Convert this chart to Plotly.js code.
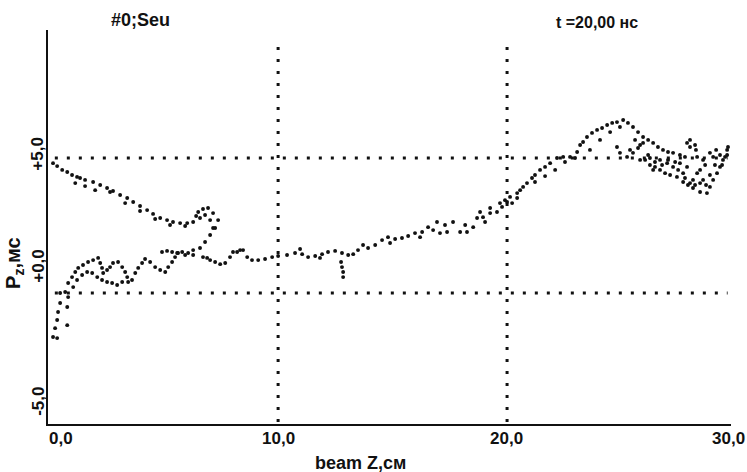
<!DOCTYPE html>
<html>
<head>
<meta charset="utf-8">
<script src="https://cdn.plot.ly/plotly-3.0.1.min.js"></script>
<style>html,body{margin:0;padding:0;background:#fff;}#chart{width:747px;height:472px;}</style>
</head>
<body>
<div id="chart"></div>
<script>
// Phase-space points (z in cm, Pz in mc)
var upperX = [0.17,0.35,0.57,0.79,1.00,1.22,1.35,1.57,1.92,2.23,2.53,2.79,3.10,3.41,3.67,3.97,4.28,4.54,4.85,5.15,5.41,5.72,6.03,6.29,6.42,6.51,6.72,6.94,7.16,7.38,7.25,7.03,6.81,6.59,6.29,
              1.14,1.57,2.01,2.66,3.32,3.97,4.63,5.28,5.94,6.59,6.81,7.03,7.16];
var upperY = [4.81,4.70,4.56,4.48,4.37,4.30,4.26,4.19,4.11,4.00,3.89,3.78,3.63,3.52,3.37,3.22,3.07,2.93,2.78,2.70,2.63,2.59,2.59,2.63,2.85,3.00,3.11,3.15,2.96,2.70,2.41,2.15,1.89,1.67,1.41,
              4.07,3.96,3.81,3.74,3.33,3.04,2.74,2.52,2.48,2.78,2.89,2.70,2.41];

var lowerX = [0.17,0.35,0.26,0.35,0.39,0.48,0.48,0.70,0.83,1.00,1.14,1.27,1.48,1.70,1.92,2.14,2.23,2.31,2.36,2.53,2.66,2.79,3.01,3.19,3.32,3.41,3.45,3.62,3.76,3.89,4.06,4.19,4.41,4.63,4.85,5.07,5.20,5.37,5.50,5.63,5.81,5.94,6.07,6.29,
              0.79,0.79,0.83,1.05,1.22,1.44,1.66,1.88,2.10,2.31,2.53,2.75,2.97,3.19,
              4.93,5.15,5.37,5.59];
var lowerY = [-1.63,-1.67,-1.30,-1.00,-0.70,-0.37,0.00,0.04,0.37,0.59,0.78,0.93,1.04,1.15,1.22,1.30,1.11,0.93,0.74,0.85,0.96,1.11,1.15,0.96,0.78,0.59,0.41,0.48,0.74,0.93,1.11,1.26,1.15,0.96,0.85,0.78,0.96,1.15,1.33,1.48,1.52,1.41,1.48,1.59,
              -0.52,-1.19,-0.15,0.22,0.48,0.67,0.78,0.74,0.59,0.48,0.41,0.37,0.30,0.41,
              1.52,1.56,1.52,1.48];

var midX = [6.72,6.90,7.03,7.25,7.47,7.69,7.90,8.03,8.21,8.34,8.47,8.65,8.86,9.13,9.43,9.74,10.00,10.39,10.74,11.05,11.31,11.62,11.92,12.18,12.49,12.79,13.06,13.28,13.49,13.71,13.93,14.24,14.54,14.80,15.11,15.41,15.68,15.98,16.29,16.55,16.77,16.94,17.07,17.38,17.64,17.95,18.25,18.52,18.69,18.95,19.26,19.56,19.78,20.00,20.22,20.44,
            10.96,11.83,14.89,16.20,17.29,18.17,19.04,
            12.75,12.79,12.84,12.84];
var midY = [1.33,1.30,1.22,1.15,1.07,1.11,1.33,1.52,1.52,1.59,1.59,1.33,1.22,1.22,1.26,1.33,1.37,1.41,1.48,1.44,1.33,1.37,1.44,1.52,1.56,1.48,1.41,1.44,1.59,1.78,1.67,1.78,1.96,2.07,2.00,2.04,2.11,2.22,2.26,2.44,2.33,2.63,2.22,2.26,2.63,2.26,2.26,2.44,2.78,2.81,2.96,3.00,3.19,3.37,3.33,3.52,
            1.63,1.30,1.85,2.07,2.52,2.52,2.63,
            1.15,0.96,0.78,0.59];

var rightX = [18.82,19.26,19.69,19.91,20.13,20.44,20.57,20.70,20.87,21.09,21.22,21.44,21.66,21.88,22.18,22.45,22.75,22.97,23.06,23.19,23.32,23.49,23.71,23.93,24.15,24.37,24.59,24.80,25.07,25.28,25.50,25.72,25.94,26.16,26.38,26.59,26.81,27.03,27.25,27.55,27.77,
              21.22,21.66,22.10,22.53,23.62,24.06,24.50,24.93,
              24.80,24.93,25.24,25.50,25.72,25.94,26.24,26.46,26.68,26.90,27.12,27.42,27.69,27.90,28.12,28.43,28.73,28.86,29.00,29.17,29.30,29.43,29.61,29.65];
var rightY = [3.00,3.15,3.33,3.44,3.56,3.70,3.81,3.93,4.07,4.26,4.37,4.56,4.67,4.81,5.00,5.04,5.04,5.00,5.22,5.48,5.59,5.78,5.93,6.04,6.11,6.22,6.30,6.33,6.41,6.30,6.15,5.96,5.78,5.67,5.56,5.41,5.30,5.22,5.19,5.11,5.04,
              4.11,4.33,4.56,4.85,5.30,5.67,5.96,6.15,
              5.41,5.19,5.04,5.19,5.37,5.56,4.74,4.67,4.56,4.44,4.37,4.30,4.11,4.00,3.89,3.74,3.70,3.93,4.19,4.44,4.67,4.93,5.30,5.41];

var scatterX = [27.86,27.99,28.30,28.56,28.86,29.00,29.30,29.52,27.55,26.99,26.38,26.68,27.25,27.86,28.30,28.56,28.12,27.69,25.37,25.81,26.16,28.43,29.08,28.69,28.25,
                26.03,26.24,26.46,26.77,27.03,27.34,27.47,27.77,27.99,28.21,28.43,27.99,28.21,29.13,29.39,29.61,28.65,28.86,25.81,25.59];
var scatterY = [5.56,5.41,5.04,4.93,5.19,5.04,5.11,5.04,4.81,4.81,4.56,4.93,4.67,4.67,4.44,4.19,4.19,4.44,5.30,4.93,5.11,4.56,4.74,4.00,5.30,
                4.93,5.00,4.85,4.74,4.93,4.85,4.56,4.26,4.07,4.00,4.07,5.67,5.48,5.30,4.74,5.11,4.74,4.37,5.48,5.67];

var xTickVals = [10, 20];
var yTickVals = [5, 0];
var xTickLabels = ["0,0", "10,0", "20,0", "30,0"];
var yTickLabels = ["+5,0", "+0,0", "-5,0"];

var FONT = "Liberation Sans Narrow, Liberation Sans, Arial, sans-serif";
var marker = {color: "#111", size: 3.9, symbol: "circle"};
function tr(x, y) { return {x: x, y: y, type: "scatter", mode: "markers", marker: marker, hoverinfo: "skip", cliponaxis: false}; }

var data = [tr(upperX, upperY), tr(lowerX, lowerY), tr(midX, midY), tr(rightX, rightY), tr(scatterX, scatterY)];

var dotLine = {color: "#111", width: 3, dash: "3px,9px"};
var shapes = [];
xTickVals.forEach(function (v) {
  shapes.push({type: "line", xref: "x", yref: "paper", x0: v, x1: v, y0: 0.005, y1: 0.98, line: dotLine});
});
yTickVals.forEach(function (v) {
  shapes.push({type: "line", xref: "paper", yref: "y", x0: 0.01, x1: 0.995, y0: v, y1: v, line: dotLine});
});

function ann(o, size) {
  return Object.assign({showarrow: false, font: {family: FONT, size: size || 17, color: "#111", weight: 700}}, o);
}
var xLabelPos = [0.52, 10, 19.96, 29.65];
var yLabelPos = [5.15, 1.0, -4.0];
var annotations = [];
xTickLabels.forEach(function (t, i) {
  annotations.push(ann({text: t, xref: "x", yref: "paper", x: xLabelPos[i], y: -0.036, xanchor: "center", yanchor: "middle"}));
});
yTickLabels.forEach(function (t, i) {
  annotations.push(ann({text: t, xref: "paper", yref: "y", x: -0.015, y: yLabelPos[i], textangle: -90, xanchor: "center", yanchor: "middle"}));
});
annotations.push(ann({text: "beam Z,см", xref: "x", yref: "paper", x: 13.58, y: -0.098, xanchor: "center", yanchor: "middle"}, 18));
annotations.push(ann({text: "P<sub>z</sub>,мс", xref: "paper", yref: "y", x: -0.05, y: 1.11, textangle: -90, xanchor: "center", yanchor: "middle"}, 20));
annotations.push(ann({text: "#0;Seu", xref: "x", yref: "paper", x: 3.97, y: 1.025, xanchor: "center", yanchor: "middle"}, 18));
annotations.push(ann({text: "t =20,00 нс", xref: "x", yref: "paper", x: 23.93, y: 1.018, xanchor: "center", yanchor: "middle"}, 16));

var layout = {
  width: 747, height: 472,
  margin: {l: 48, r: 16, t: 30, b: 48},
  paper_bgcolor: "#fff", plot_bgcolor: "#fff",
  showlegend: false,
  xaxis: {range: [-0.05, 29.78], showgrid: false, zeroline: false, showticklabels: false, ticks: "",
          showline: true, linecolor: "#111", linewidth: 2.4},
  yaxis: {range: [-4.85, 9.74], showgrid: false, zeroline: false, showticklabels: false, ticks: "",
          showline: true, linecolor: "#111", linewidth: 2.4},
  shapes: shapes,
  annotations: annotations
};

Plotly.newPlot("chart", data, layout, {staticPlot: true, displayModeBar: false});
</script>
</body>
</html>
